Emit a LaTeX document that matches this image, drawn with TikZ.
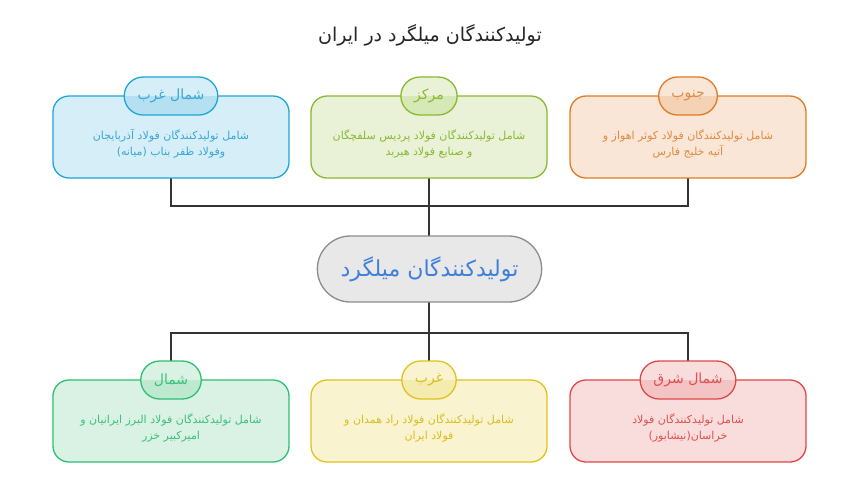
\documentclass[tikz,border=0pt]{standalone}
\usepackage{fontspec}
\usepackage{tikz}
\usetikzlibrary{positioning, calc, shapes.misc}
\TeXXeTstate=1
\newfontfamily\farsi[Script=Arabic]{DejaVu Sans}
\definecolor{nwline}{HTML}{1EA6D6}\definecolor{nwfill}{HTML}{D5EEF8}\definecolor{nwtag}{HTML}{B5E0F2}\definecolor{nwtext}{HTML}{3AA6D6}
\definecolor{cline}{HTML}{8AB832}\definecolor{cfill}{HTML}{E9F2D6}\definecolor{ctag}{HTML}{D6E8B6}\definecolor{ctext}{HTML}{8AB832}
\definecolor{sline}{HTML}{E07B24}\definecolor{sfill}{HTML}{F9E6D7}\definecolor{stag}{HTML}{F4D2B6}\definecolor{stext}{HTML}{E08A40}
\definecolor{nline}{HTML}{2DBF73}\definecolor{nfill}{HTML}{D9F2E4}\definecolor{ntag}{HTML}{BDE9CF}\definecolor{ntext}{HTML}{3CC07A}
\definecolor{wline}{HTML}{E0C31A}\definecolor{wfill}{HTML}{F9F4CF}\definecolor{wtag}{HTML}{F4EBAE}\definecolor{wtext}{HTML}{D8BE20}
\definecolor{neline}{HTML}{E04848}\definecolor{nefill}{HTML}{F9DDDD}\definecolor{netag}{HTML}{F4C3C3}\definecolor{netext}{HTML}{E05050}
\definecolor{hubline}{HTML}{8C8C8C}\definecolor{hubfill}{HTML}{E8E8E8}\definecolor{hubtext}{HTML}{3F7FDB}
\tikzstyle{region}=[shape=rectangle, rounded corners=16pt, minimum height=82pt, minimum width=236pt, line width=1.3pt]
\tikzstyle{note}=[align=center, font=\farsi\fontsize{11}{16}\selectfont]
\tikzstyle{tag}=[shape=rounded rectangle, minimum height=38pt, inner xsep=12pt, line width=1.3pt, font=\farsi\fontsize{14}{16}\selectfont]
\tikzstyle{link}=[line width=1.3pt, draw=black!80]

\begin{document}
\begin{tikzpicture}[x=1pt, y=-1pt]
\useasboundingbox[fill=white] (0,0) rectangle (853,480);
%title
\node[font=\farsi\fontsize{19}{21}\selectfont, text=black!85] (title) at (430,35) {\beginR تولیدکنندگان میلگرد در ایران\endR};
%links
\coordinate (jtop) at (429,206); \coordinate (jbot) at (429,333);
\draw[link] (171,178) |- (jtop) -| (688,178);
\draw[link] (429,178) -- (429,236);
\draw[link] (429,302) -- (jbot);
\draw[link] (171,362) |- (jbot) -| (688,362);
\draw[link] (jbot) -- (429,362);
%hub
\node[shape=rounded rectangle, minimum width=231pt, minimum height=66pt, draw=hubline, fill=hubfill, line width=1.3pt, text=hubtext, font=\farsi\fontsize{22}{24}\selectfont] (hub) at (429.5,269) {\beginR تولیدکنندگان میلگرد\endR};
%top boxes
\node[region, draw=nwline, fill=nwfill] (boxnw) at (171,137) {};
\node[region, draw=cline, fill=cfill] (boxc) at (429,137) {};
\node[region, draw=sline, fill=sfill] (boxs) at (688,137) {};
\node[note, text=nwtext] (notenw) at (171,144) {\beginR شامل تولیدکنندگان فولاد آذربایجان\endR\\\beginR وفولاد ظفر بناب (میانه)\endR};
\node[note, text=ctext] (notec) at (429,144) {\beginR شامل تولیدکنندگان فولاد پردیس سلفچگان\endR\\\beginR و صنایع فولاد هیربد\endR};
\node[note, text=stext] (notes) at (688,144) {\beginR شامل تولیدکنندگان فولاد کوثر اهواز و\endR\\\beginR آتیه خلیج فارس\endR};
\node[tag, draw=nwline, fill=nwfill, text=nwtext, path picture={\fill[nwtag] (path picture bounding box.west) rectangle (path picture bounding box.south east);}] (tagnw) at (171,96) {\beginR شمال غرب\endR};
\node[tag, draw=cline, fill=cfill, text=ctext, path picture={\fill[ctag] (path picture bounding box.west) rectangle (path picture bounding box.south east);}] (tagc) at (429,96) {\beginR مرکز\endR};
\node[tag, draw=sline, fill=sfill, text=stext, path picture={\fill[stag] (path picture bounding box.west) rectangle (path picture bounding box.south east);}] (tags) at (688,96) {\beginR جنوب\endR};
%bottom boxes
\node[region, draw=nline, fill=nfill] (boxn) at (171,421) {};
\node[region, draw=wline, fill=wfill] (boxw) at (429,421) {};
\node[region, draw=neline, fill=nefill] (boxne) at (688,421) {};
\node[note, text=ntext] (noten) at (171,428) {\beginR شامل تولیدکنندگان فولاد البرز ایرانیان و\endR\\\beginR امیرکبیر خزر\endR};
\node[note, text=wtext] (notew) at (429,428) {\beginR شامل تولیدکنندگان فولاد راد همدان و\endR\\\beginR فولاد ایران\endR};
\node[note, text=netext] (notene) at (688,428) {\beginR شامل تولیدکنندگان فولاد\endR\\\beginR خراسان(نیشابور)\endR};
\node[tag, draw=nline, fill=nfill, text=ntext, path picture={\fill[ntag] (path picture bounding box.west) rectangle (path picture bounding box.south east);}] (tagn) at (171,380) {\beginR شمال\endR};
\node[tag, draw=wline, fill=wfill, text=wtext, path picture={\fill[wtag] (path picture bounding box.west) rectangle (path picture bounding box.south east);}] (tagw) at (429,380) {\beginR غرب\endR};
\node[tag, draw=neline, fill=nefill, text=netext, path picture={\fill[netag] (path picture bounding box.west) rectangle (path picture bounding box.south east);}] (tagne) at (688,380) {\beginR شمال شرق\endR};
\end{tikzpicture}
\end{document}
